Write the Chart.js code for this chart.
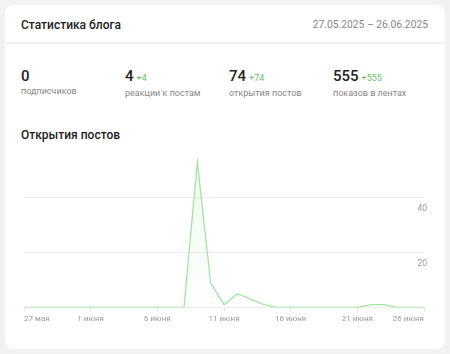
<!DOCTYPE html>
<html>
<head>
<meta charset="utf-8">
<script src="https://cdn.jsdelivr.net/npm/chart.js@4"></script>
<style>
  body { margin:0; background:#f2f2f2; font-family:Roboto, "Noto Sans", sans-serif; width:450px; height:354px; overflow:hidden; }
  .card { position:absolute; left:5px; top:5px; width:440px; height:344px; background:#fff; border-radius:8px; }
  .head { position:absolute; left:0; top:0; width:440px; height:37px; border-bottom:2px solid #f2f2f2; }
  .title { position:absolute; left:16px; top:12px; font-size:12px; font-weight:500; color:#222; line-height:16px; }
  .dates { position:absolute; right:17px; top:12px; font-size:10.3px; color:#888; line-height:16px; }
  .stat { position:absolute; top:62px; }
  .num { font-size:15px; font-weight:500; color:#222; line-height:18px; }
  .num span { font-size:9px; font-weight:400; color:#6cc06c; margin-left:3px; }
  .lbl { font-size:9px; color:#888; line-height:12px; margin-top:0; }
  .sub { position:absolute; left:16px; top:122px; font-size:12px; font-weight:500; color:#222; line-height:16px; }
  .wrap { position:absolute; left:16px; top:130px; width:409px; height:192px; }
</style>
</head>
<body>
<div class="card">
  <div class="head">
    <div class="title">Статистика блога</div>
    <div class="dates">27.05.2025 – 26.06.2025</div>
  </div>
  <div id="stats"></div>
  <div class="sub">Открытия постов</div>
  <div class="wrap"><canvas id="c"></canvas></div>
</div>
<script>
// stats row
var statValues = [ 0, 4, 74, 555 ];
var statDeltas = [ null, 4, 74, 555 ];
var statLabels = [ 'подписчиков', 'реакции к постам', 'открытия постов', 'показов в лентах' ];

// chart data: 27 мая .. 26 июня
var dayLabels = [
  '27 мая','28 мая','29 мая','30 мая','31 мая',
  '1 июня','2 июня','3 июня','4 июня','5 июня','6 июня','7 июня','8 июня','9 июня','10 июня',
  '11 июня','12 июня','13 июня','14 июня','15 июня','16 июня','17 июня','18 июня','19 июня','20 июня',
  '21 июня','22 июня','23 июня','24 июня','25 июня','26 июня'
];
var opens = [
  0,0,0,0,0,
  0,0,0,0,0,0,0,0,53,9,
  1,5,3,1,0,0,0,0,0,0,
  0,1,1,0,0,0
];
var yTicks = [ 20, 40 ];

var html = '';
for( var i = 0; i < statValues.length; i++ ){
    html += '<div class="stat" style="left:'+(16+i*104)+'px"><div class="num">'+statValues[i]+
        ( statDeltas[i] !== null ? '<span>+'+statDeltas[i]+'</span>' : '' )+
        '</div><div class="lbl">'+statLabels[i]+'</div></div>';
}
document.getElementById( 'stats' ).innerHTML = html;

var ctx = document.getElementById( 'c' ).getContext( '2d' );
var grad = ctx.createLinearGradient( 0, 15, 0, 180 );
grad.addColorStop( 0, 'rgba(150,225,150,0.18)' );
grad.addColorStop( 1, 'rgba(150,225,150,0)' );

new Chart( ctx, {
    type: 'line',
    data: {
        labels: dayLabels,
        datasets: [ {
            data: opens,
            borderColor: '#a3e4a3',
            backgroundColor: grad,
            borderWidth: 1.3,
            fill: true,
            pointRadius: 0,
            tension: 0
        } ]
    },
    options: {
        responsive: true,
        maintainAspectRatio: false,
        animation: false,
        layout: { padding: 0 },
        plugins: { legend: { display: false }, tooltip: { enabled: false } },
        scales: {
            x: {
                offset: false,
                grid: {
                    drawOnChartArea: false,
                    drawTicks: true,
                    tickLength: 4,
                    color: function( c ){ return c.index % 5 === 0 ? '#e2e2e2' : 'rgba(0,0,0,0)'; }
                },
                border: { display: true, color: '#ececec' },
                ticks: {
                    autoSkip: false,
                    maxRotation: 0,
                    align: 'inner',
                    padding: 3,
                    color: '#999',
                    font: { family: 'Roboto', size: 8 },
                    callback: function( v, i ){ return i % 5 === 0 ? dayLabels[i] : ''; }
                }
            },
            y: {
                position: 'right',
                min: 0,
                max: 60,
                afterBuildTicks: function( s ){ s.ticks = [ 0 ].concat( yTicks ).concat( [ 60 ] ).map( function( v ){ return { value: v }; } ); },
                grid: {
                    drawTicks: false,
                    color: function( c ){ return ( c.tick && ( c.tick.value === 0 || c.tick.value === 60 ) ) ? 'rgba(0,0,0,0)' : '#efefef'; }
                },
                border: { display: false },
                ticks: {
                    mirror: true,
                    padding: 3,
                    labelOffset: 11,
                    color: '#999',
                    font: { family: 'Roboto', size: 8.5 },
                    callback: function( v ){ return ( v === 0 || v === 60 ) ? '' : v; }
                }
            }
        }
    }
} );
</script>
</body>
</html>
